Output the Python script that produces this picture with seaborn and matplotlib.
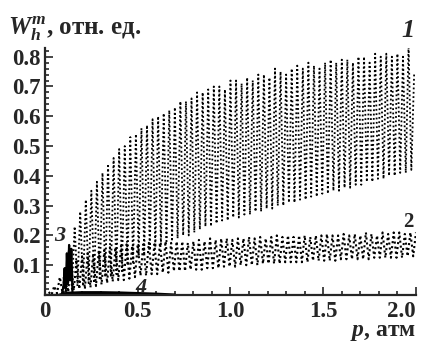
import numpy as np
import pandas as pd
import seaborn as sns
import matplotlib
matplotlib.use("Agg")
import matplotlib.pyplot as plt
from matplotlib.ticker import FixedLocator, MultipleLocator

# curve 1: peaks and troughs of the oscillation
p1_top = [0.10, 0.13, 0.16, 0.19, 0.22, 0.25, 0.28, 0.31, 0.34, 0.37,
          0.40, 0.43, 0.46, 0.49, 0.52, 0.55, 0.58, 0.61, 0.64, 0.67,
          0.70, 0.73, 0.76, 0.79, 0.82, 0.85, 0.88, 0.91, 0.94, 0.97,
          1.00, 1.03, 1.06, 1.09, 1.12, 1.15, 1.18, 1.21, 1.24, 1.27,
          1.30, 1.33, 1.36, 1.39, 1.42, 1.45, 1.48, 1.51, 1.54, 1.57,
          1.60, 1.63, 1.66, 1.69, 1.72, 1.75, 1.78, 1.81, 1.84, 1.87,
          1.90, 1.93, 1.96, 1.99]
w1_top = [0.06, 0.17, 0.23, 0.28, 0.32, 0.35, 0.38, 0.41, 0.44, 0.46,
          0.49, 0.50, 0.53, 0.54, 0.56, 0.57, 0.59, 0.60, 0.61, 0.62,
          0.63, 0.65, 0.65, 0.66, 0.68, 0.68, 0.69, 0.70, 0.70, 0.69,
          0.72, 0.72, 0.71, 0.73, 0.72, 0.74, 0.74, 0.73, 0.76, 0.75,
          0.74, 0.76, 0.77, 0.76, 0.78, 0.77, 0.76, 0.78, 0.79, 0.78,
          0.79, 0.79, 0.78, 0.80, 0.80, 0.78, 0.81, 0.80, 0.81, 0.80,
          0.81, 0.80, 0.84, 0.74]
p1_bot = [0.115, 0.145, 0.175, 0.205, 0.235, 0.265, 0.295, 0.325, 0.355, 0.385,
          0.415, 0.445, 0.475, 0.505, 0.535, 0.565, 0.595, 0.625, 0.655, 0.685,
          0.715, 0.745, 0.775, 0.805, 0.835, 0.865, 0.895, 0.925, 0.955, 0.985,
          1.015, 1.045, 1.075, 1.105, 1.135, 1.165, 1.195, 1.225, 1.255, 1.285,
          1.315, 1.345, 1.375, 1.405, 1.435, 1.465, 1.495, 1.525, 1.555, 1.585,
          1.615, 1.645, 1.675, 1.705, 1.735, 1.765, 1.795, 1.825, 1.855, 1.885,
          1.915, 1.945, 1.975]
w1_bot = [0.00, 0.02, 0.03, 0.03, 0.04, 0.04, 0.05, 0.06, 0.06, 0.07,
          0.08, 0.10, 0.11, 0.13, 0.14, 0.15, 0.16, 0.17, 0.18, 0.18,
          0.19, 0.20, 0.20, 0.21, 0.22, 0.23, 0.23, 0.24, 0.25, 0.25,
          0.26, 0.26, 0.27, 0.27, 0.28, 0.28, 0.29, 0.29, 0.30, 0.30,
          0.31, 0.31, 0.32, 0.32, 0.33, 0.33, 0.34, 0.34, 0.35, 0.35,
          0.36, 0.36, 0.37, 0.37, 0.38, 0.38, 0.39, 0.39, 0.40, 0.40,
          0.41, 0.41, 0.42]

# curve 2
p2_top = [0.02, 0.05, 0.08, 0.11, 0.14, 0.17, 0.20, 0.23, 0.26, 0.29,
          0.32, 0.35, 0.38, 0.41, 0.44, 0.47, 0.50, 0.53, 0.56, 0.59,
          0.62, 0.65, 0.68, 0.71, 0.74, 0.77, 0.80, 0.83, 0.86, 0.89,
          0.92, 0.95, 0.98, 1.01, 1.04, 1.07, 1.10, 1.13, 1.16, 1.19,
          1.22, 1.25, 1.28, 1.31, 1.34, 1.37, 1.40, 1.43, 1.46, 1.49,
          1.52, 1.55, 1.58, 1.61, 1.64, 1.67, 1.70, 1.73, 1.76, 1.79,
          1.82, 1.85, 1.88, 1.91, 1.94, 1.97, 2.00]
w2_top = [0.01, 0.03, 0.06, 0.09, 0.11, 0.12, 0.13, 0.14, 0.14, 0.15,
          0.15, 0.16, 0.16, 0.165, 0.17, 0.165, 0.17, 0.17, 0.175, 0.17,
          0.175, 0.18, 0.175, 0.18, 0.18, 0.175, 0.18, 0.185, 0.18, 0.19,
          0.185, 0.19, 0.19, 0.185, 0.19, 0.19, 0.195, 0.19, 0.195, 0.19,
          0.195, 0.20, 0.195, 0.20, 0.195, 0.20, 0.20, 0.195, 0.20, 0.20,
          0.205, 0.20, 0.20, 0.205, 0.20, 0.205, 0.20, 0.21, 0.205, 0.20,
          0.21, 0.205, 0.21, 0.21, 0.205, 0.21, 0.21]
p2_bot = [0.035, 0.065, 0.095, 0.125, 0.155, 0.185, 0.215, 0.245, 0.275, 0.305,
          0.335, 0.365, 0.395, 0.425, 0.455, 0.485, 0.515, 0.545, 0.575, 0.605,
          0.635, 0.665, 0.695, 0.725, 0.755, 0.785, 0.815, 0.845, 0.875, 0.905,
          0.935, 0.965, 0.995, 1.025, 1.055, 1.085, 1.115, 1.145, 1.175, 1.205,
          1.235, 1.265, 1.295, 1.325, 1.355, 1.385, 1.415, 1.445, 1.475, 1.505,
          1.535, 1.565, 1.595, 1.625, 1.655, 1.685, 1.715, 1.745, 1.775, 1.805,
          1.835, 1.865, 1.895, 1.925, 1.955, 1.985]
w2_bot = [0.00, 0.005, 0.005, 0.01, 0.015, 0.02, 0.02, 0.025, 0.03, 0.035,
          0.04, 0.045, 0.05, 0.05, 0.055, 0.06, 0.065, 0.065, 0.07, 0.07,
          0.075, 0.075, 0.08, 0.08, 0.08, 0.085, 0.085, 0.085, 0.09, 0.09,
          0.09, 0.095, 0.095, 0.095, 0.10, 0.10, 0.10, 0.10, 0.105, 0.105,
          0.105, 0.105, 0.11, 0.11, 0.11, 0.11, 0.11, 0.115, 0.115, 0.115,
          0.115, 0.115, 0.12, 0.12, 0.12, 0.12, 0.12, 0.12, 0.125, 0.125,
          0.125, 0.125, 0.125, 0.125, 0.13, 0.13]

# curve 3 (narrow spike) and curve 4 (almost zero)
p3 = [0.0, 0.09, 0.100, 0.106, 0.112, 0.118, 0.124, 0.130, 0.136, 0.142, 0.148, 0.16, 0.2]
w3 = [0.0, 0.0, 0.03, 0.09, 0.02, 0.14, 0.04, 0.168, 0.05, 0.155, 0.01, 0.0, 0.0]
p4 = [0.08, 0.12, 0.2, 0.3, 0.4, 0.5, 0.6, 0.7]
w4 = [0.0, 0.006, 0.008, 0.008, 0.007, 0.005, 0.003, 0.0]

x_ticks = [0, 0.5, 1.0, 1.5, 2.0]
x_labels = ["0", "0.5", "1.0", "1.5", "2.0"]
y_ticks = [0.1, 0.2, 0.3, 0.4, 0.5, 0.6, 0.7, 0.8]
y_labels = ["0.1", "0.2", "0.3", "0.4", "0.5", "0.6", "0.7", "0.8"]


def merge(p_top, w_top, p_bot, w_bot):
    # put peaks and troughs together in order of pressure
    df = pd.concat([pd.DataFrame({"p": p_top, "w": w_top}),
                    pd.DataFrame({"p": p_bot, "w": w_bot})])
    return df.sort_values("p").reset_index(drop=True)


c1 = merge(p1_top, w1_top, p1_bot, w1_bot)
c2 = merge(p2_top, w2_top, p2_bot, w2_bot)

sns.set_style("ticks")
plt.rcParams["font.family"] = ["Liberation Serif", "DejaVu Serif"]
plt.rcParams["mathtext.fontset"] = "custom"
plt.rcParams["mathtext.it"] = "Liberation Serif:italic:bold"
plt.rcParams["mathtext.rm"] = "Liberation Serif:bold"

fig = plt.figure(figsize=(4.28, 3.42), dpi=100)
ax = fig.add_axes([0.1051, 0.1374, 0.8668, 0.723])

dots = (0, (1, 1.4))
sns.lineplot(data=c1, x="p", y="w", sort=False, ax=ax, color="black",
             linestyle=dots, linewidth=1.3, estimator=None)
sns.lineplot(data=c2, x="p", y="w", sort=False, ax=ax, color="black",
             linestyle=dots, linewidth=1.5, estimator=None)
sns.lineplot(x=p3, y=w3, sort=False, ax=ax, color="black", linewidth=1.6,
             estimator=None)
sns.lineplot(x=p4, y=w4, sort=False, ax=ax, color="black", linewidth=2.2,
             estimator=None)

ax.set_xlim(0, 2.0)
ax.set_ylim(0, 0.83)
ax.set_xlabel("")
ax.set_ylabel("")

ax.xaxis.set_major_locator(FixedLocator(x_ticks))
ax.set_xticklabels(x_labels)
ax.xaxis.set_minor_locator(MultipleLocator(0.1))
ax.yaxis.set_major_locator(FixedLocator(y_ticks))
ax.set_yticklabels(y_labels)
ax.yaxis.set_minor_locator(MultipleLocator(0.02))

ax.tick_params(axis="both", which="both", direction="in", width=1.2)
ax.tick_params(axis="both", which="major", length=6, labelsize=16.5)
ax.tick_params(axis="both", which="minor", length=3)
ax.tick_params(axis="x", which="major", pad=4)
ax.tick_params(axis="y", which="major", pad=3)
for lab in ax.get_xticklabels() + ax.get_yticklabels():
    lab.set_fontweight("bold")
# keep the last label inside the picture, as in the scan
ax.get_xticklabels()[-1].set_horizontalalignment("right")
ax.get_xticklabels()[-1].set_x(2.0)

sns.despine(ax=ax)
ax.spines["left"].set_linewidth(1.6)
ax.spines["bottom"].set_linewidth(1.6)

# curve numbers
ax.text(1.957, 0.889, "1", fontsize=19, fontweight="bold", fontstyle="italic",
        ha="center", va="center", clip_on=False)
ax.text(1.957, 0.245, "2", fontsize=15, fontweight="bold",
        ha="center", va="center")
ax.text(0.081, 0.198, "3", fontsize=16, fontweight="bold", fontstyle="italic",
        ha="center", va="center")
ax.text(0.517, 0.024, "4", fontsize=16, fontweight="bold", fontstyle="italic",
        ha="center", va="center")

fig.text(0.018, 0.915, r"$W_h^m$, отн. ед.", fontsize=18, fontweight="bold",
         ha="left", va="center")
fig.text(0.972, 0.028, r"$p$, атм", fontsize=17, fontweight="bold",
         ha="right", va="center")

fig.savefig("out.png", dpi=100)
